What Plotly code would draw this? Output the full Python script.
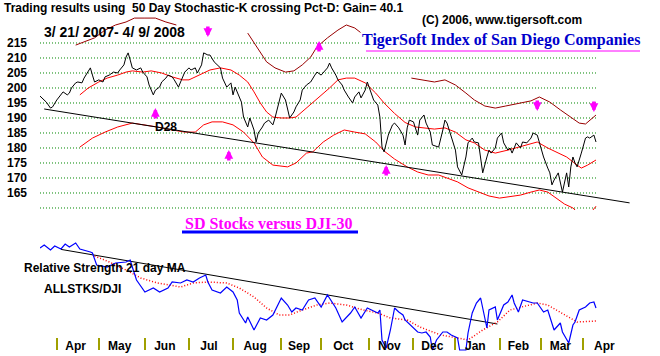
import plotly.graph_objects as go
import pandas as pd

W, H = 660, 356
L, R = 40, 30
PW = W - L - R

# ---------------- data ----------------
start_date = "2007-03-21"
holidays = ["2007-04-06", "2007-05-28", "2007-07-04", "2007-09-03", "2007-11-22",
            "2007-12-25", "2008-01-01", "2008-01-21", "2008-02-18", "2008-03-21"]
month_labels = ["Apr", "May", "Jun", "Jul", "Aug", "Sep", "Oct", "Nov", "Dec",
                "Jan", "Feb", "Mar", "Apr"]
grid_levels = [160, 165, 170, 175, 180, 185, 190, 195, 200, 205, 210, 215]
y_tick_levels = [165, 170, 175, 180, 185, 190, 195, 200, 205, 210, 215]

# trading-day offsets from 3/21/2007 and index values
price_day = [0, 1, 3, 5, 6, 8, 10, 11, 13, 14, 15, 17, 18, 20, 21, 23, 24, 25, 26, 28,
             30, 31, 33, 35, 37, 38, 40, 41, 42, 43, 44, 46, 48, 49, 51, 52, 54, 55, 57, 58,
             60, 61, 63, 64, 66, 67, 69, 71, 72, 74, 75, 77, 78, 80, 81, 83, 86, 87, 89, 91,
             92, 93, 94, 96, 97, 99, 100, 102, 103, 104, 106, 107, 109, 111, 112, 113, 115, 117, 118, 119,
             121, 122, 124, 125, 127, 129, 131, 132, 134, 137, 138, 139, 141, 142, 144, 145, 147, 149, 150, 152,
             153, 155, 156, 157, 159, 161, 162, 163, 164, 166, 168, 169, 171, 173, 174, 175, 176, 178, 180, 181,
             183, 184, 186, 187, 190, 192, 193, 194, 196, 198, 199, 201, 203, 204, 206, 207, 209, 210, 211, 213,
             214, 215, 217, 218, 220, 221, 223, 224, 225, 227, 229, 230, 232, 234, 235, 237, 238, 240, 242, 243,
             244, 245, 247, 248, 249, 251, 252, 253, 254, 255, 256, 258, 260, 261, 262, 264, 265]
price_val = [197.3, 196.7, 195.3, 193.3, 193.7, 196.0, 197.7, 198.7, 197.7, 198.3, 200.0, 201.7, 202.0, 201.7, 203.3, 205.3, 206.7, 204.3, 202.0, 202.7,
             202.0, 203.7, 204.3, 205.3, 205.0, 206.0, 207.7, 210.3, 211.7, 209.3, 206.7, 206.0, 206.7, 205.3, 203.7, 201.0, 197.7, 199.3, 200.3, 202.0,
             203.3, 204.3, 203.7, 202.7, 200.3, 202.0, 205.3, 206.7, 206.0, 206.7, 205.0, 207.7, 211.7, 211.0, 211.0, 208.7, 206.7, 203.3, 200.3, 201.7,
             197.7, 200.3, 198.7, 195.3, 190.3, 187.0, 190.0, 186.0, 182.0, 185.0, 187.0, 188.3, 189.3, 187.7, 190.0, 192.7, 198.3, 196.0, 192.7, 190.0,
             192.0, 193.7, 196.0, 199.3, 201.0, 202.0, 204.3, 205.3, 204.3, 206.7, 208.3, 206.7, 204.3, 202.7, 201.0, 199.3, 197.0, 195.0, 197.0, 198.7,
             196.7, 199.3, 202.0, 200.0, 196.0, 194.3, 190.3, 180.3, 178.7, 184.3, 187.7, 188.3, 186.7, 184.3, 181.0, 186.7, 189.3, 188.7, 184.3, 189.3,
             191.0, 188.3, 185.3, 181.0, 180.3, 186.0, 189.3, 188.3, 183.7, 179.3, 173.7, 171.0, 177.0, 181.7, 183.3, 182.0, 181.7, 177.0, 171.7, 177.0,
             179.3, 178.3, 180.0, 183.3, 185.0, 181.7, 179.3, 180.0, 178.3, 181.7, 180.0, 182.0, 181.7, 183.3, 185.0, 184.3, 182.0, 177.0, 173.3, 171.7,
             167.7, 169.3, 171.7, 168.3, 165.3, 171.7, 167.0, 173.7, 177.0, 175.0, 173.7, 178.3, 183.3, 183.7, 183.3, 184.3, 182.0]

upper_day = [19, 23, 28, 32, 37, 41, 44, 49, 53, 58, 63, 68, 71, 76, 81, 86, 91, 95, 99, 102,
             105, 108, 111, 115, 119, 122, 126, 130, 134, 138, 142, 146, 150, 155, 160, 164, 169, 174, 179, 183,
             188, 193, 198, 203, 207, 212, 217, 223, 227, 232, 237, 242, 246, 251, 256, 258, 261, 265]
upper_val = [197.7, 200.0, 202.0, 203.3, 204.3, 205.3, 205.7, 205.3, 205.7, 205.0, 203.7, 202.7, 202.7, 204.3, 206.0, 206.7, 206.0, 204.3, 202.0, 198.7,
             195.0, 192.0, 190.3, 190.0, 190.0, 190.3, 192.7, 195.3, 197.7, 200.0, 202.7, 203.3, 203.3, 201.7, 198.3, 195.0, 191.5, 188.5, 187.0, 186.7,
             186.3, 186.7, 185.3, 182.7, 181.7, 179.3, 178.3, 179.3, 180.0, 181.0, 182.0, 180.0, 178.7, 177.0, 174.3, 173.3, 174.3, 176.0]

lower_day = [19, 25, 31, 37, 44, 50, 56, 63, 69, 74, 78, 82, 87, 92, 97, 102, 106, 111, 118, 122,
             127, 130, 135, 140, 145, 150, 155, 160, 164, 169, 175, 180, 185, 190, 194, 199, 204, 209, 214, 219,
             224, 229, 234, 238, 242, 246, 250, 254, 257, 262, 265]
lower_val = [180.3, 183.3, 185.3, 187.0, 188.3, 187.7, 187.0, 186.0, 185.3, 185.3, 187.7, 188.7, 188.7, 187.7, 185.3, 181.7, 177.0, 174.3, 173.7, 175.0,
             178.3, 178.7, 182.0, 184.3, 186.0, 185.3, 184.7, 182.0, 179.0, 176.3, 173.7, 172.0, 171.0, 171.0, 170.0, 168.7, 166.7, 165.3, 164.0, 163.3,
             163.7, 164.3, 165.3, 166.0, 165.3, 163.3, 161.3, 160.0, 158.0, 158.0, 160.6]

outer1_day = [17, 21, 26, 31, 36, 41, 45, 50, 55, 60, 65]
outer1_val = [214.3, 215.3, 216.7, 219.3, 221.0, 222.0, 223.3, 223.3, 223.3, 222.0, 221.0]
outer2_day = [99, 102, 105, 108, 112, 117, 121, 125, 129, 132, 137, 142, 146, 150, 155]
outer2_val = [218.3, 215.0, 211.7, 208.7, 206.7, 205.3, 205.7, 207.7, 210.3, 213.7, 216.7, 219.3, 221.0, 220.0, 217.3]
outer3_day = [177, 183, 188, 193, 198, 203, 207, 212, 217, 222, 229, 234, 238, 243, 248, 253, 257, 260, 262, 265]
outer3_val = [203.3, 202.7, 202.0, 202.7, 201.0, 198.3, 196.0, 194.0, 193.3, 194.0, 195.0, 195.7, 197.0, 195.3, 192.7, 190.3, 188.3, 188.0, 189.3, 191.0]

trend_day = [2, 281]
trend_val = [193.0, 161.7]

buy_day = [55, 90, 133, 165, 245]
buy_val = [193.3, 179.3, 215.7, 174.3, 159.3]
sell_day = [80, 237, 264]
sell_val = [217.0, 192.3, 192.0]

# relative strength (SD stocks / DJI-30), arbitrary units
rs_day = [0, 2, 5, 7, 10, 12, 14, 17, 19, 21, 24, 25, 27, 32, 36, 41, 43, 44, 46, 50,
          54, 57, 61, 63, 67, 70, 73, 76, 79, 80, 82, 86, 89, 92, 94, 95, 98, 99, 102, 105,
          108, 111, 115, 118, 120, 122, 125, 128, 131, 134, 137, 141, 144, 148, 150, 153, 156, 161, 162, 163,
          165, 167, 169, 171, 173, 174, 175, 177, 180, 182, 184, 186, 187, 189, 192, 194, 196, 199, 200, 203,
          204, 206, 208, 210, 211, 213, 214, 217, 218, 221, 223, 225, 226, 228, 230, 233, 235, 237, 240, 242,
          244, 245, 248, 249, 252, 254, 255, 257, 260, 262, 264, 265]
rs_val = [92, 95, 90, 94, 91, 96, 93, 97, 91, 90, 88, 87, 75, 73, 77, 78, 80, 73, 60, 48,
          52, 48, 52, 58, 57, 60, 58, 62, 65, 58, 50, 47, 53, 48, 40, 27, 17, 23, 10, 22,
          20, 25, 42, 35, 28, 32, 30, 40, 42, 33, 45, 32, 18, 27, 33, 22, 32, 27, 30, 0,
          -8, 10, 32, 28, 25, 20, 18, 15, 8, 7, 8, 3, -10, 0, 8, 8, 5, 2, -10, -10,
          7, 27, 37, 42, 33, 12, 30, 33, 20, 35, 38, 45, 37, 28, 40, 38, 37, 37, 28, 30,
          17, 10, 17, 8, -3, 15, 18, 30, 33, 37, 38, 32]

ma_day = [26, 33, 41, 48, 56, 67, 73, 80, 89, 95, 102, 108, 114, 119, 125, 132, 138, 146, 154, 161,
          167, 175, 181, 191, 199, 204, 211, 218, 224, 230, 237, 242, 248, 253, 256, 265]
ma_val = [84, 78, 70, 62, 57, 53, 57, 58, 57, 52, 43, 32, 25, 25, 30, 35, 37, 35, 30, 27,
          22, 20, 13, 5, 2, 0, 10, 18, 30, 33, 37, 35, 28, 22, 18, 19]

rs_trend_day = [10, 218]
rs_trend_val = [90.6, 16.0]

# ---------------- trading calendar -> month ticks ----------------
cal = pd.bdate_range(start_date, "2008-05-30")
cal = cal[~cal.isin(pd.to_datetime(holidays))]
starts = [i for i in range(1, len(cal)) if cal[i].month != cal[i - 1].month]
n_m = len(month_labels)
bar_pos = starts[:n_m]
label_pos = [(starts[k] + starts[k + 1]) / 2 - 1 for k in range(n_m)]

X_MAX = 281.2


def px(p):
    return (p - L) / PW


def py(p):
    return 1 - p / H


FONT = "Arial, Liberation Sans, sans-serif"
SERIF = "Times New Roman, Liberation Serif, serif"

fig = go.Figure()


def seg(days_list, vals_list):
    xs, ys = [], []
    for d, v in zip(days_list, vals_list):
        xs += list(d) + [None]
        ys += list(v) + [None]
    return xs, ys


ox, oy = seg([outer1_day, outer2_day, outer3_day], [outer1_val, outer2_val, outer3_val])
fig.add_trace(go.Scatter(x=ox, y=oy, mode="lines", line=dict(color="#990000", width=1),
                         xaxis="x", yaxis="y", hoverinfo="skip"))
fig.add_trace(go.Scatter(x=upper_day, y=upper_val, mode="lines", line=dict(color="#ff0000", width=1),
                         xaxis="x", yaxis="y"))
fig.add_trace(go.Scatter(x=lower_day, y=lower_val, mode="lines", line=dict(color="#ff0000", width=1),
                         xaxis="x", yaxis="y"))
fig.add_trace(go.Scatter(x=trend_day, y=trend_val, mode="lines", line=dict(color="black", width=1),
                         xaxis="x", yaxis="y"))
fig.add_trace(go.Scatter(x=price_day, y=price_val, mode="lines", line=dict(color="black", width=1),
                         xaxis="x", yaxis="y"))

fig.add_trace(go.Scatter(x=rs_trend_day, y=rs_trend_val, mode="lines", line=dict(color="black", width=1),
                         xaxis="x2", yaxis="y2"))
fig.add_trace(go.Scatter(x=ma_day, y=ma_val, mode="lines", line=dict(color="#ff0000", width=1.5, dash="1px,2px"),
                         xaxis="x2", yaxis="y2"))
fig.add_trace(go.Scatter(x=rs_day, y=rs_val, mode="lines", line=dict(color="#0000ff", width=1.2),
                         xaxis="x2", yaxis="y2"))
# invisible anchor trace for the month-boundary tick strip
fig.add_trace(go.Scatter(x=[bar_pos[0]], y=[0.5], mode="markers", marker=dict(opacity=0),
                         xaxis="x3", yaxis="y3", hoverinfo="skip"))

# dotted green grid lines across the data span
for lv in grid_levels:
    fig.add_shape(type="line", xref="x", yref="y", x0=price_day[0], x1=price_day[-1], y0=lv, y1=lv,
                  line=dict(color="#008800", width=1, dash="1px,2px"), layer="below")

annotations = []
for d, v in zip(buy_day, buy_val):
    annotations.append(dict(x=d, y=v, xref="x", yref="y", text="", showarrow=True, ax=0, ay=12,
                            arrowhead=2, arrowsize=0.5, arrowwidth=3.5, arrowcolor="#ff00ff", standoff=0))
for d, v in zip(sell_day, sell_val):
    annotations.append(dict(x=d, y=v, xref="x", yref="y", text="", showarrow=True, ax=0, ay=-12,
                            arrowhead=2, arrowsize=0.5, arrowwidth=3.5, arrowcolor="#ff00ff", standoff=0))


def txt(s, x, y, size=12, color="black", family=FONT, xanchor="left", bold=True, bg=None):
    d = dict(text=s, x=px(x), y=py(y), xref="paper", yref="paper", showarrow=False,
             xanchor=xanchor, yanchor="middle",
             font=dict(family=family, size=size, color=color, weight="bold" if bold else "normal"))
    if bg:
        d["bgcolor"] = bg
        d["borderpad"] = 1
    return d


annotations += [
    txt("Trading results using\u00a0\u00a050 Day Stochastic-K crossing Pct-D: Gain= 40.1", 2, 8),
    txt("(C) 2006, www.tigersoft.com", 420, 20),
    txt("3/ 21/ 2007- 4/ 9/ 2008", 42, 32, size=14),
    txt("TigerSoft Index of San Diego Companies", 501, 40, size=16, color="#0000cc",
        family=SERIF, xanchor="center", bg="white"),
    txt("D28", 153, 127),
    txt("SD Stocks versus DJI-30", 269, 223, size=16, color="#ff00ff", family=SERIF, xanchor="center"),
    txt("Relative Strength 21 day MA", 22, 268),
    txt("ALLSTKS/DJI", 42, 289),
]

shapes_extra = [
    dict(type="line", xref="paper", yref="paper", x0=px(366), x1=px(640), y0=py(50), y1=py(50),
         line=dict(color="#ff00ff", width=3)),
    dict(type="line", xref="paper", yref="paper", x0=px(182), x1=px(358), y0=py(232), y1=py(232),
         line=dict(color="#0000ff", width=3)),
]
for s in shapes_extra:
    fig.add_shape(**s)

fig.update_layout(
    width=W, height=H, template="none", showlegend=False,
    margin=dict(l=L, r=R, t=0, b=0),
    paper_bgcolor="white", plot_bgcolor="rgba(0,0,0,0)",
    annotations=annotations,
    xaxis=dict(domain=[0, 1], range=[0, X_MAX], anchor="y", visible=False, automargin=False),
    yaxis=dict(domain=[py(210), 1], range=[159.33, 229.33], anchor="x",
               tickmode="array", tickvals=y_tick_levels, ticks="", ticklabelstandoff=12,
               showgrid=False, zeroline=False, showline=False, automargin=False,
               tickfont=dict(family=FONT, size=12, color="black", weight="bold")),
    xaxis2=dict(domain=[0, 1], range=[0, X_MAX], anchor="free", position=py(337),
                tickmode="array", tickvals=label_pos, ticktext=month_labels, ticks="",
                showgrid=False, zeroline=False, showline=False, automargin=False,
                tickfont=dict(family=FONT, size=12, color="black", weight="bold")),
    yaxis2=dict(domain=[py(352), py(236)], range=[-12, 104], anchor="x2", visible=False),
    xaxis3=dict(domain=[0, 1], range=[0, X_MAX], anchor="y3", tickmode="array", tickvals=bar_pos,
                showticklabels=False, ticks="", showgrid=True, gridcolor="#a0a000", gridwidth=2,
                zeroline=False, showline=False, automargin=False),
    yaxis3=dict(domain=[py(350), py(338)], range=[0, 1], anchor="x3", visible=False),
)

fig.write_html("out.html", config={"displayModeBar": False},
               post_script="document.body.style.margin='0px';")
